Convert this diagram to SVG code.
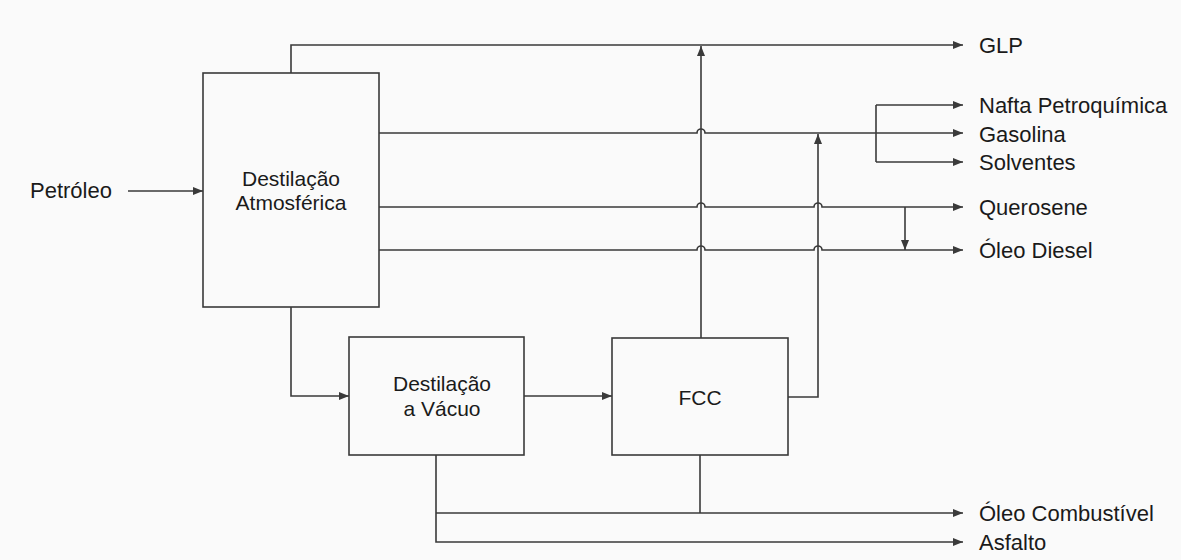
<svg xmlns="http://www.w3.org/2000/svg" width="1181" height="560" viewBox="0 0 1181 560">
<style>
.box{fill:none;stroke:#3a3a3a;stroke-width:1.6}
.ln{fill:none;stroke:#3a3a3a;stroke-width:1.6}
.arr{marker-end:url(#ah)}
text{font-family:"Liberation Sans",Arial,sans-serif;font-size:21px;fill:#1a1a1a}
.lbl{font-size:22px}
.c{text-anchor:middle}
</style>
<defs>
<marker id="ah" markerUnits="userSpaceOnUse" markerWidth="10" markerHeight="8" refX="10" refY="4" orient="auto">
<path d="M0,0 L10,4 L0,8 z" fill="#3a3a3a"/>
</marker>
</defs>
<rect width="1181" height="560" fill="#fafafa"/>
<g id="connectors">
<path class="ln arr" d="M128,191 H203"/>
<path class="ln arr" d="M291,73 V45 H963"/>
<path class="ln arr" d="M379,133 H697 A4,4 0 0 1 705,133 H963"/>
<path class="ln" d="M876,105 V162"/>
<path class="ln arr" d="M876,105 H963"/>
<path class="ln arr" d="M876,162 H963"/>
<path class="ln arr" d="M379,207 H697 A4,4 0 0 1 705,207 H814 A4,4 0 0 1 822,207 H963"/>
<path class="ln arr" d="M379,250 H697 A4,4 0 0 1 705,250 H814 A4,4 0 0 1 822,250 H963"/>
<path class="ln arr" d="M905,207 V250"/>
<path class="ln arr" d="M291,307 V396 H349"/>
<path class="ln arr" d="M524,396 H612"/>
<path class="ln arr" d="M701,338 V46"/>
<path class="ln arr" d="M788,397 H818 V134"/>
<path class="ln arr" d="M436,455 V542 H963"/>
<path class="ln arr" d="M436,513 H963"/>
<path class="ln" d="M700,455 V513"/>
</g>
<g id="atmosferica">
<rect class="box" x="203" y="73" width="176" height="234"/>
<text class="c" x="291" y="186">Destilação</text>
<text class="c" x="291" y="210">Atmosférica</text>
</g>
<g id="vacuo">
<rect class="box" x="349" y="337" width="175" height="118"/>
<text class="c" x="442" y="391">Destilação</text>
<text class="c" x="442" y="416">a Vácuo</text>
</g>
<g id="fcc">
<rect class="box" x="612" y="338" width="176" height="117"/>
<text class="c" x="700" y="405">FCC</text>
</g>
<g id="labels">
<text class="lbl" x="30" y="198">Petróleo</text>
<text class="lbl" x="979" y="53">GLP</text>
<text class="lbl" x="979" y="113">Nafta Petroquímica</text>
<text class="lbl" x="979" y="142">Gasolina</text>
<text class="lbl" x="979" y="170">Solventes</text>
<text class="lbl" x="979" y="215">Querosene</text>
<text class="lbl" x="979" y="258">Óleo Diesel</text>
<text class="lbl" x="979" y="521">Óleo Combustível</text>
<text class="lbl" x="979" y="550">Asfalto</text>
</g>
</svg>
